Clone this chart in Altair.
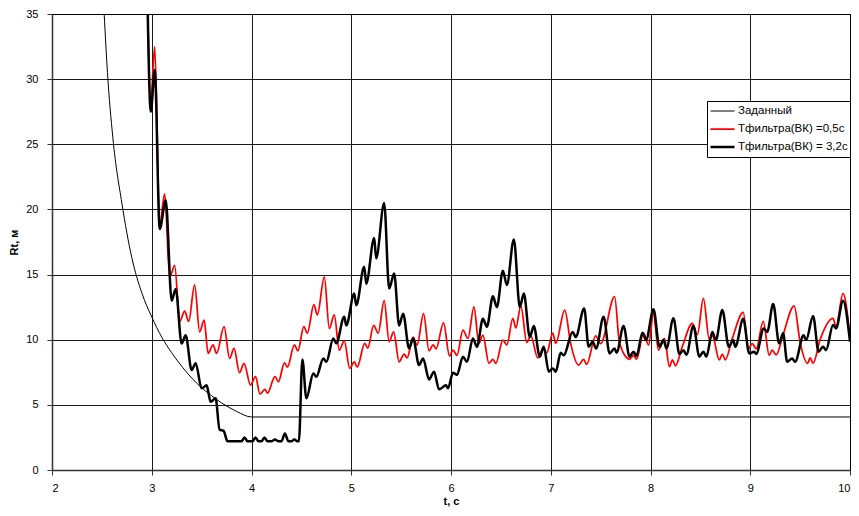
import altair as alt
import pandas as pd

# ---- data ----
series_names = ["Заданный", "Тфильтра(ВК) =0,5с", "Тфильтра(ВК) = 3,2с"]
series_colors = ["#000000", "#ff0000", "#000000"]
series_widths = [1, 2.5, 4.6]

zad_points = [
    (2.523, 35.0), (2.556, 30.5), (2.61, 25.5), (2.70, 20.5), (2.80, 16.3),
    (2.90, 13.6), (3.00, 11.75), (3.10, 10.2), (3.20, 9.0), (3.35, 7.5),
    (3.48, 6.45), (3.60, 5.7), (3.70, 5.15), (3.85, 4.5), (4.00, 4.07),
    (10.00, 4.07),
]

red_points = [
    (2.955, 37.0), (2.99, 28.3), (3.03, 32.5), (3.08, 18.8), (3.13, 21.2),
    (3.18, 14.8), (3.23, 15.7), (3.28, 11.4), (3.33, 12.2), (3.37, 11.4),
    (3.43, 14.2), (3.48, 10.6), (3.525, 11.5), (3.565, 8.95), (3.615, 9.6),
    (3.65, 8.95), (3.725, 11.0), (3.78, 8.57), (3.825, 9.33), (3.88, 7.47),
    (3.925, 8.19), (3.99, 6.52), (4.04, 7.16), (4.085, 5.83), (4.135, 6.19),
    (4.16, 5.9), (4.235, 7.16), (4.27, 6.77), (4.33, 8.23), (4.36, 7.9),
    (4.43, 9.6), (4.465, 9.15), (4.525, 11.0), (4.56, 10.5), (4.625, 12.7),
    (4.66, 11.9), (4.73, 14.83), (4.78, 10.87), (4.83, 11.9), (4.88, 9.2),
    (4.93, 9.92), (4.985, 7.8), (5.03, 8.3), (5.06, 7.9), (5.135, 9.72),
    (5.165, 9.35), (5.225, 11.1), (5.27, 10.5), (5.33, 13.0), (5.38, 9.85),
    (5.425, 10.6), (5.48, 8.3), (5.53, 8.9), (5.56, 8.6), (5.62, 10.2),
    (5.66, 9.6), (5.725, 12.0), (5.78, 9.15), (5.82, 9.6), (5.85, 9.3),
    (5.925, 11.3), (5.985, 8.75), (6.02, 9.2), (6.06, 8.8), (6.12, 10.74),
    (6.17, 10.1), (6.23, 12.53), (6.28, 9.72), (6.32, 10.35), (6.38, 8.19),
    (6.42, 8.5), (6.45, 8.19), (6.52, 9.97), (6.56, 9.6), (6.62, 11.64),
    (6.65, 10.9), (6.70, 12.6), (6.76, 9.8), (6.80, 10.3), (6.87, 8.6),
    (6.92, 9.3), (6.96, 9.0), (7.02, 10.5), (7.05, 9.72), (7.14, 12.28),
    (7.20, 9.7), (7.28, 8.05), (7.33, 8.5), (7.36, 8.1), (7.45, 10.3),
    (7.50, 9.7), (7.64, 13.3), (7.69, 9.72), (7.79, 8.5), (7.83, 8.8),
    (7.86, 8.5), (7.93, 10.5), (7.98, 9.6), (8.03, 12.0), (8.08, 9.2),
    (8.14, 10.1), (8.19, 7.93), (8.22, 8.45), (8.25, 8.0), (8.32, 9.5),
    (8.42, 11.26), (8.47, 10.4), (8.53, 13.17), (8.59, 10.0), (8.62, 10.3),
    (8.69, 8.45), (8.72, 8.9), (8.75, 8.45), (8.82, 10.1), (8.93, 12.1),
    (8.98, 9.3), (9.02, 9.7), (9.06, 9.3), (9.13, 11.4), (9.19, 8.8),
    (9.22, 9.2), (9.26, 8.83), (9.33, 10.4), (9.44, 12.6), (9.50, 9.8),
    (9.575, 8.19), (9.60, 8.6), (9.63, 8.19), (9.70, 10.0), (9.83, 11.64),
    (9.86, 11.0), (9.93, 13.55), (10.0, 10.2),
]

black_points = [
    (2.955, 37.0), (2.99, 27.5), (3.03, 30.7), (3.08, 18.5), (3.14, 20.7),
    (3.20, 13.0), (3.24, 13.9), (3.30, 9.7), (3.34, 10.35), (3.40, 7.67),
    (3.44, 8.2), (3.50, 6.27), (3.55, 6.5), (3.59, 5.24), (3.64, 5.5),
    (3.68, 3.1), (3.72, 3.0), (3.76, 2.2), (3.90, 2.2), (3.93, 2.5),
    (3.96, 2.2), (4.01, 2.2), (4.04, 2.5), (4.07, 2.2), (4.10, 2.2),
    (4.13, 2.5), (4.16, 2.2), (4.20, 2.2), (4.235, 2.35), (4.27, 2.2),
    (4.30, 2.2), (4.335, 2.8), (4.37, 2.2), (4.40, 2.2), (4.43, 2.35),
    (4.46, 2.2), (4.475, 2.2), (4.51, 8.49), (4.55, 5.5), (4.62, 7.4),
    (4.65, 7.15), (4.72, 8.56), (4.75, 8.3), (4.82, 10.1), (4.85, 9.72),
    (4.93, 11.77), (4.95, 11.1), (5.03, 13.55), (5.05, 12.65), (5.13, 15.6),
    (5.15, 14.3), (5.23, 17.8), (5.25, 16.25), (5.33, 20.5), (5.38, 13.93),
    (5.43, 15.08), (5.48, 11.1), (5.52, 12.0), (5.58, 9.33), (5.62, 10.1),
    (5.68, 8.05), (5.72, 8.56), (5.78, 6.95), (5.83, 7.55), (5.88, 6.19),
    (5.95, 6.5), (5.97, 6.27), (6.02, 7.47), (6.06, 7.3), (6.12, 8.7),
    (6.16, 8.3), (6.22, 10.1), (6.26, 9.46), (6.32, 11.6), (6.36, 11.0),
    (6.42, 13.33), (6.46, 12.5), (6.52, 15.3), (6.56, 14.2), (6.63, 17.7),
    (6.69, 12.5), (6.73, 13.55), (6.79, 10.2), (6.83, 11.05), (6.89, 8.7),
    (6.93, 9.46), (6.98, 7.55), (7.02, 7.8), (7.05, 7.55), (7.10, 9.0),
    (7.13, 8.8), (7.22, 10.6), (7.25, 10.2), (7.335, 12.4), (7.38, 9.46),
    (7.42, 9.85), (7.455, 9.33), (7.53, 11.77), (7.59, 8.95), (7.64, 9.33),
    (7.66, 9.0), (7.73, 11.05), (7.79, 8.7), (7.83, 9.08), (7.86, 8.75),
    (7.92, 10.54), (7.955, 9.97), (8.03, 12.33), (8.09, 9.46), (8.13, 9.97),
    (8.16, 9.33), (8.23, 11.64), (8.29, 8.9), (8.33, 9.2), (8.36, 8.85),
    (8.43, 11.05), (8.49, 8.7), (8.53, 9.08), (8.56, 8.7), (8.62, 10.6),
    (8.655, 9.97), (8.72, 12.28), (8.785, 9.46), (8.83, 9.97), (8.85, 9.46),
    (8.93, 11.6), (8.99, 8.95), (9.04, 9.08), (9.06, 8.9), (9.135, 10.87),
    (9.17, 10.6), (9.23, 12.74), (9.29, 9.72), (9.33, 10.49), (9.37, 8.3),
    (9.42, 8.56), (9.45, 8.3), (9.535, 10.35), (9.56, 9.97), (9.63, 11.82),
    (9.685, 9.08), (9.73, 9.46), (9.76, 9.2), (9.83, 11.13), (9.86, 10.87),
    (9.93, 13.0), (10.0, 9.85),
]

x_ticks = [2, 3, 4, 5, 6, 7, 8, 9, 10]
y_ticks = [0, 5, 10, 15, 20, 25, 30, 35]

rows = []
for name, pts in zip(series_names, [zad_points, red_points, black_points]):
    for i, (t, r) in enumerate(pts):
        rows.append({"series": name, "t": t, "r": r, "i": i})
df = pd.DataFrame(rows)

FONT = "Liberation Sans"

color_scale = alt.Scale(domain=series_names, range=series_colors)
width_scale = alt.Scale(domain=series_names, range=series_widths)

legend = alt.Legend(
    title=None, orient="none", legendX=655, legendY=87,
    symbolType="stroke", symbolSize=576, clipHeight=16, rowPadding=2,
    padding=2, strokeColor="#000000", fillColor="#ffffff",
    labelFont=FONT, labelFontSize=11.5, labelOffset=2, labelColor="#000000",
    labelLimit=300,
)

base = alt.Chart(df).mark_line(interpolate="monotone", clip=True).encode(
    x=alt.X("t:Q", scale=alt.Scale(domain=[2, 10], nice=False, zero=False),
            axis=alt.Axis(values=x_ticks, title="t, с", format="d")),
    y=alt.Y("r:Q", scale=alt.Scale(domain=[0, 35], nice=False),
            axis=alt.Axis(values=y_ticks, title="Rt, м", format="d")),
    color=alt.Color("series:N", scale=color_scale, legend=legend),
    strokeWidth=alt.StrokeWidth("series:N", scale=width_scale, legend=legend),
    order="i:Q",
)

layers = [base.transform_filter(alt.datum.series == n) for n in series_names]

chart = alt.layer(*layers).properties(
    width=798, height=456,
    autosize=alt.AutoSizeParams(type="none"),
    padding={"left": 44, "top": 6, "right": 1, "bottom": 38},
).configure_view(
    stroke="#000000", strokeWidth=1
).configure_axis(
    grid=True, gridColor="#000000", gridWidth=1, gridOpacity=0.9,
    domainColor="#333333", domainWidth=1.5,
    tickColor="#333333", tickSize=5,
    labelFont=FONT, labelFontSize=11, labelColor="#000000",
    titleFont=FONT, titleFontSize=11, titleFontWeight="bold", titleColor="#000000",
).configure_axisX(
    labelPadding=7, titlePadding=2,
).configure_axisY(
    labelPadding=9, titlePadding=6,
)

chart.save("out.html", embed_options={"renderer": "svg", "actions": False})
